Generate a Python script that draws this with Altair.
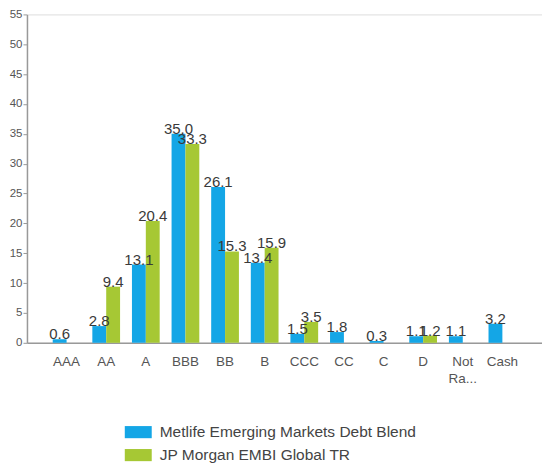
import altair as alt
import pandas as pd

categories = ["AAA", "AA", "A", "BBB", "BB", "B", "CCC", "CC", "C", "D", "Not Rated", "Cash"]
series_names = ["Metlife Emerging Markets Debt Blend", "JP Morgan EMBI Global TR"]
metlife = [0.6, 2.8, 13.1, 35.0, 26.1, 13.4, 1.5, 1.8, 0.3, 1.1, 1.1, 3.2]
jpm = [0.0, 9.4, 20.4, 33.3, 15.3, 15.9, 3.5, 0.0, 0.0, 1.2, 0.0, 0.0]
colors = ["#14A6E6", "#A6C834"]

rows = []
for i, c in enumerate(categories):
    rows.append({"cat": c, "series": series_names[0], "value": metlife[i]})
    rows.append({"cat": c, "series": series_names[1], "value": jpm[i]})
df = pd.DataFrame(rows)

FONT = "Liberation Sans"

x = alt.X("cat:N", sort=categories, title=None,
          scale=alt.Scale(paddingInner=0.3, paddingOuter=0.65),
          axis=alt.Axis(labelAngle=0, ticks=False, domain=True, domainColor="#999999",
                        domainWidth=1.5, labelPadding=12,
                        labelFont=FONT, labelFontSize=13.5, labelColor="#555555",
                        labelLineHeight=17,
                        labelExpr="datum.label == 'Not Rated' ? ['Not', 'Ra...'] : datum.label"))
y = alt.Y("value:Q", title=None,
          scale=alt.Scale(domain=[0, 55], nice=False),
          axis=alt.Axis(values=list(range(0, 56, 5)), grid=False, tickSize=4,
                        tickColor="#999999", domainColor="#999999", domainWidth=1.5,
                        labelFont=FONT, labelFontSize=11.5, labelColor="#555555", labelPadding=1))
color = alt.Color("series:N", sort=series_names,
                  scale=alt.Scale(domain=series_names, range=colors),
                  legend=alt.Legend(title=None, orient="none", legendX=98, legendY=405,
                                    symbolType="M-1,-0.45H1V0.45H-1Z", symbolSize=729,
                                    symbolStrokeWidth=0, labelFont=FONT, labelFontSize=15.5,
                                    labelLimit=400,
                                    labelColor="#444444", rowPadding=1, labelOffset=8))
xoff = alt.XOffset("series:N", sort=series_names)

bars = alt.Chart(df).mark_bar().encode(x=x, y=y, color=color, xOffset=xoff)

labels = alt.Chart(df).transform_filter("datum.value > 0").mark_text(
    font=FONT, fontSize=15, color="#3a3a3a", baseline="alphabetic", dy=0
).encode(x=x, y=y, xOffset=xoff, text=alt.Text("value:Q", format=".1f"))

chart = alt.layer(bars, labels).properties(
    width=516, height=329,
    autosize=alt.AutoSizeParams(type="none"),
    padding={"left": 19, "top": 6, "right": 0, "bottom": 125},
).configure_view(stroke="#aaaaaa", strokeWidth=1.5).configure(background="white")

chart.save("out.html", embed_options={"renderer": "svg", "actions": False})
